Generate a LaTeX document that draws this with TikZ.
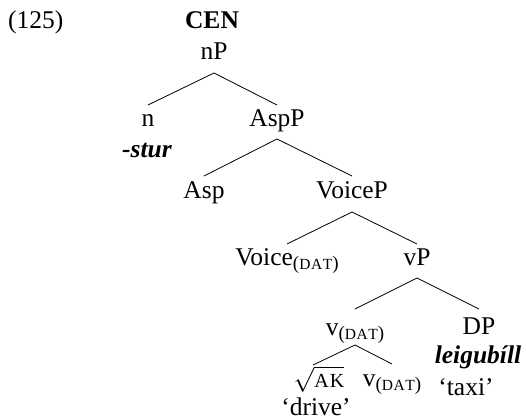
\documentclass[tikz,border=0pt]{standalone}
\usepackage{fontspec}
\setmainfont{Liberation Serif}
\newcommand{\datsub}{\raisebox{-4.5pt}{\fontsize{19}{19}\selectfont(\fontsize{15.5}{15.5}\selectfont D\kern0.6pt A\kern0.6pt T\fontsize{19}{19}\selectfont)}}
\begin{document}
\begin{tikzpicture}[x=1pt,y=-1pt,
  lab/.style={anchor=base,inner sep=0pt,font=\fontsize{25.5}{30}\selectfont},
  edge/.style={line width=0.8pt}]
\useasboundingbox (0,0) rectangle (526,419);
\node[lab,anchor=base west] (ex) at (8,29) {(125)};
\node[lab] (cen) at (212,29) {\textbf{CEN}};
\node[lab] (np) at (214,60) {nP};
\node[lab] (n) at (148,127) {n};
\node[lab] (stur) at (147,158) {\textbf{\textit{-stur}}};
\node[lab] (aspp) at (277,127) {AspP};
\node[lab] (asp) at (204,199) {Asp};
\node[lab] (voicep) at (352,199) {VoiceP};
\node[lab] (voice) at (287,265) {Voice\datsub};
\node[lab] (vp) at (417,265) {vP};
\node[lab] (vdat) at (355,335) {v\datsub};
\node[lab] (dp) at (479,334) {DP};
\node[lab] (leig) at (478,363) {\textbf{\textit{leigubíll}}};
\node[lab] (taxi) at (466,395) {‘taxi’};
\node[lab,font=\fontsize{30}{30}\selectfont] (ak) at (319,387) {$\sqrt{\mbox{\fontsize{20}{20}\selectfont A\kern1pt K}}$};
\node[lab] (vdat2) at (392,386) {v\datsub};
\node[lab] (drive) at (316,415) {‘drive’};
\draw[edge] ([yshift=-13pt]np.base) -- ([yshift=22pt]n.base);
\draw[edge] ([yshift=-13pt]np.base) -- ([yshift=22pt]aspp.base);
\draw[edge] ([yshift=-12pt]aspp.base) -- ([yshift=23pt]asp.base);
\draw[edge] ([yshift=-12pt]aspp.base) -- ([yshift=23pt]voicep.base);
\draw[edge] ([yshift=-13pt]voicep.base) -- ([yshift=21pt]voice.base);
\draw[edge] ([yshift=-13pt]voicep.base) -- ([yshift=21pt]vp.base);
\draw[edge] ([yshift=-13pt]vp.base) -- ([yshift=26pt]vdat.base);
\draw[edge] ([yshift=-13pt]vp.base) -- ([yshift=25pt]dp.base);
\draw[edge] ([yshift=-10pt]vdat.base) -- ([xshift=-6pt,yshift=22pt]ak.base);
\draw[edge] ([yshift=-10pt]vdat.base) -- ([yshift=22pt]vdat2.base);
\end{tikzpicture}
\end{document}
